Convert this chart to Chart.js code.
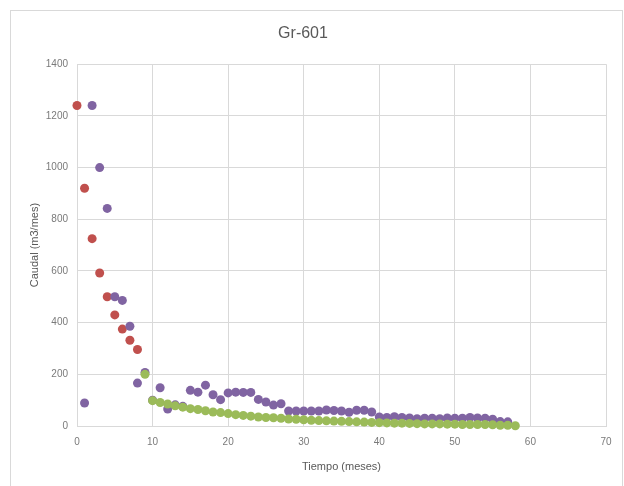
<!DOCTYPE html>
<html lang="es">
<head>
<meta charset="UTF-8">
<script src="https://cdn.jsdelivr.net/npm/chart.js"></script>
<title>Gr-601</title>
<style>
  body { margin: 0; background: #fff; }
  #marco { position: absolute; left: 10px; top: 10px; width: 613px; height: 480px; border: 1px solid #d9d9d9; box-sizing: border-box; }
  #caja { position: absolute; left: 0; top: 0; width: 624px; height: 486px; }
</style>
</head>
<body>
<div id="marco"></div>
<div id="caja"><canvas id="grafico" width="624" height="486"></canvas></div>

<script>
// Gr-601: caudal vs tiempo, tres series
var mesesRojo = [0, 1, 2, 3, 4, 5, 6, 7, 8];
var caudalRojo = [1240, 920, 725, 592, 500, 430, 375, 332, 296];

var mesesMorado = [1, 2, 3, 4, 5, 6, 7, 8, 9, 10, 11, 12, 13, 14, 15, 16, 17, 18, 19, 20,
  21, 22, 23, 24, 25, 26, 27, 28, 29, 30, 31, 32, 33, 34, 35, 36, 37, 38, 39, 40,
  41, 42, 43, 44, 45, 46, 47, 48, 49, 50, 51, 52, 53, 54, 55, 56, 57];
var caudalMorado = [89, 1240, 1000, 842, 500, 486, 386, 166, 207, 100, 148, 66, 82, 76, 138, 131, 158, 121, 102, 128,
  131, 130, 130, 103, 93, 81, 86, 58, 58, 58, 58, 58, 62, 60, 58, 53, 61, 61, 54, 35,
  33, 36, 33, 31, 28, 30, 30, 28, 31, 30, 30, 33, 31, 30, 26, 17, 16];

var mesesVerde = [9, 10, 11, 12, 13, 14, 15, 16, 17, 18, 19, 20, 21, 22, 23, 24, 25, 26, 27, 28,
  29, 30, 31, 32, 33, 34, 35, 36, 37, 38, 39, 40, 41, 42, 43, 44, 45, 46, 47, 48,
  49, 50, 51, 52, 53, 54, 55, 56, 57, 58];
var caudalVerde = [200, 98, 91, 85, 78, 73, 67, 64, 59, 54, 52, 48, 44, 41, 38, 35, 33, 32, 30, 27,
  26, 24, 22, 21, 20, 19, 18, 17, 16, 15, 14, 13, 12, 11, 11, 10, 9, 8, 8, 8,
  7, 7, 6, 6, 6, 6, 5, 3, 3, 1];

var ticksX = [0, 10, 20, 30, 40, 50, 60, 70];
var ticksY = [0, 200, 400, 600, 800, 1000, 1200, 1400];

function puntos(xs, ys) {
  var r = [];
  for (var i = 0; i < xs.length; i++) {
    r.push({ x: xs[i], y: ys[i] });
  }
  return r;
}

function serie(nombre, xs, ys, color, orden) {
  return {
    label: nombre,
    data: puntos(xs, ys),
    backgroundColor: color,
    borderColor: color,
    borderWidth: 0,
    pointRadius: 4.5,
    pointHoverRadius: 4.5,
    clip: false,
    order: orden
  };
}

var fuente = "'Liberation Sans', Arial, sans-serif";
var gris = '#595959';
var grisClaro = '#7a7a7a';

const config = {
  type: 'scatter',
  data: {
    datasets: [
      serie('Serie 1', mesesRojo, caudalRojo, '#C0504D', 2),
      serie('Serie 2', mesesMorado, caudalMorado, '#8064A2', 1),
      serie('Serie 3', mesesVerde, caudalVerde, '#9BBB59', 0)
    ]
  },
  options: {
    responsive: false,
    animation: false,
    layout: { padding: { left: 0, right: 18, top: 0, bottom: 0 } },
    plugins: {
      legend: { display: false },
      tooltip: { enabled: false },
      title: {
        display: true,
        text: 'Gr-601',
        color: gris,
        font: { family: fuente, size: 16, weight: 'normal' },
        padding: { top: 24, bottom: 21 }
      }
    },
    scales: {
      x: {
        type: 'linear',
        min: 0,
        max: 70,
        afterBuildTicks: function (eje) { eje.ticks = ticksX.map(function (v) { return { value: v }; }); },
        afterFit: function (eje) { eje.height = 60; },
        grid: { color: '#d9d9d9', drawTicks: false },
        border: { color: '#d9d9d9' },
        ticks: {
          color: grisClaro, font: { family: fuente, size: 10 }, padding: 10, maxRotation: 0,
          callback: function (v) { return String(v); }
        },
        title: { display: true, text: 'Tiempo (meses)', color: gris, font: { family: fuente, size: 11 }, padding: { top: 4, bottom: 12 } }
      },
      y: {
        type: 'linear',
        min: 0,
        max: 1400,
        afterBuildTicks: function (eje) { eje.ticks = ticksY.map(function (v) { return { value: v }; }); },
        afterFit: function (eje) { eje.width = 77; },
        grid: { color: '#d9d9d9', drawTicks: false },
        border: { color: '#d9d9d9' },
        ticks: {
          color: grisClaro, font: { family: fuente, size: 10 }, padding: 9,
          callback: function (v) { return String(v); }
        },
        title: { display: true, text: 'Caudal (m3/mes)', color: gris, font: { family: fuente, size: 11 }, padding: { top: 28, bottom: 0 } }
      }
    }
  }
};

const grafico = new Chart(document.getElementById('grafico'), config);
</script>
</body>
</html>
